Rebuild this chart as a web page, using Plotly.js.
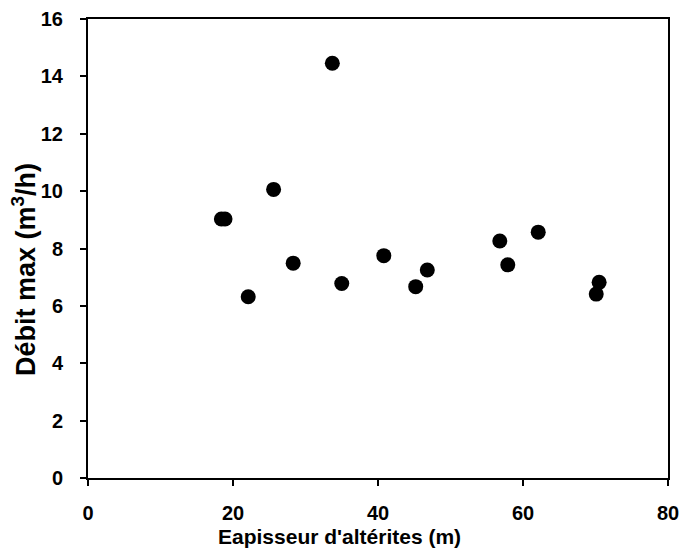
<!DOCTYPE html>
<html>
<head>
<meta charset="utf-8">
<script src="https://cdn.plot.ly/plotly-3.0.1.min.js"></script>
<style>html,body{margin:0;padding:0;background:#fff;}#chart{width:682px;height:553px;}</style>
</head>
<body>
<div id="chart"></div>
<script>
const epaisseur = [33.7, 25.6, 18.4, 18.9, 22.1, 28.3, 35.0, 40.8, 45.2, 46.8, 56.8, 57.9, 62.1, 70.5, 70.1];
const debit     = [14.46, 10.06, 9.03, 9.03, 6.32, 7.49, 6.78, 7.75, 6.67, 7.25, 8.26, 7.43, 8.57, 6.82, 6.41];
const xTicks = [0, 20, 40, 60, 80];
const yTicks = [0, 2, 4, 6, 8, 10, 12, 14, 16];
const xTitle = "Eapisseur d'altérites (m)";
const yTitle = 'Débit max (m<sup>3</sup>/h)';

const fam = 'Liberation Sans, Arial, sans-serif';
const trace = {
  x: epaisseur, y: debit, type: 'scatter', mode: 'markers',
  marker: {color: '#000', size: 15}
};
const tickFont = {family: fam, size: 20, color: '#000', weight: 700};
const layout = {
  width: 682, height: 553,
  margin: {l: 88, r: 14, t: 19, b: 75},
  paper_bgcolor: '#fff', plot_bgcolor: '#fff',
  showlegend: false,
  xaxis: {
    range: [0, 80], tickvals: xTicks, ticktext: xTicks.map(v => '<b>' + v + '</b>'),
    showgrid: false, zeroline: false, showline: true, linecolor: '#000', linewidth: 2,
    mirror: true, ticks: 'outside', ticklen: 6, tickwidth: 2, tickcolor: '#000',
    tickfont: tickFont, ticklabelstandoff: 10
  },
  yaxis: {
    range: [0, 16], tickvals: yTicks, ticktext: yTicks.map(v => '<b>' + v + '</b>'),
    showgrid: false, zeroline: false, showline: true, linecolor: '#000', linewidth: 2,
    mirror: true, ticks: 'outside', ticklen: 19, tickwidth: 1, tickcolor: 'rgba(0,0,0,0)',
    tickfont: tickFont,
    minor: {tickmode: 'array', tickvals: yTicks, ticks: 'outside', ticklen: 6, tickwidth: 2, tickcolor: '#000', showgrid: false}
  },
  annotations: [
    {text: '<b>' + xTitle + '</b>', xref: 'paper', yref: 'paper', x: 0.433, y: -0.1285,
     xanchor: 'center', yanchor: 'middle', showarrow: false,
     font: {family: fam, size: 21, color: '#000', weight: 700}},
    {text: '<b>' + yTitle + '</b>', xref: 'paper', yref: 'paper', x: 0, y: 0.453, xshift: -64,
     xanchor: 'center', yanchor: 'middle', showarrow: false, textangle: -90,
     font: {family: fam, size: 27, color: '#000', weight: 700}}
  ]
};
Plotly.newPlot('chart', [trace], layout, {displayModeBar: false, staticPlot: true});
</script>
</body>
</html>
